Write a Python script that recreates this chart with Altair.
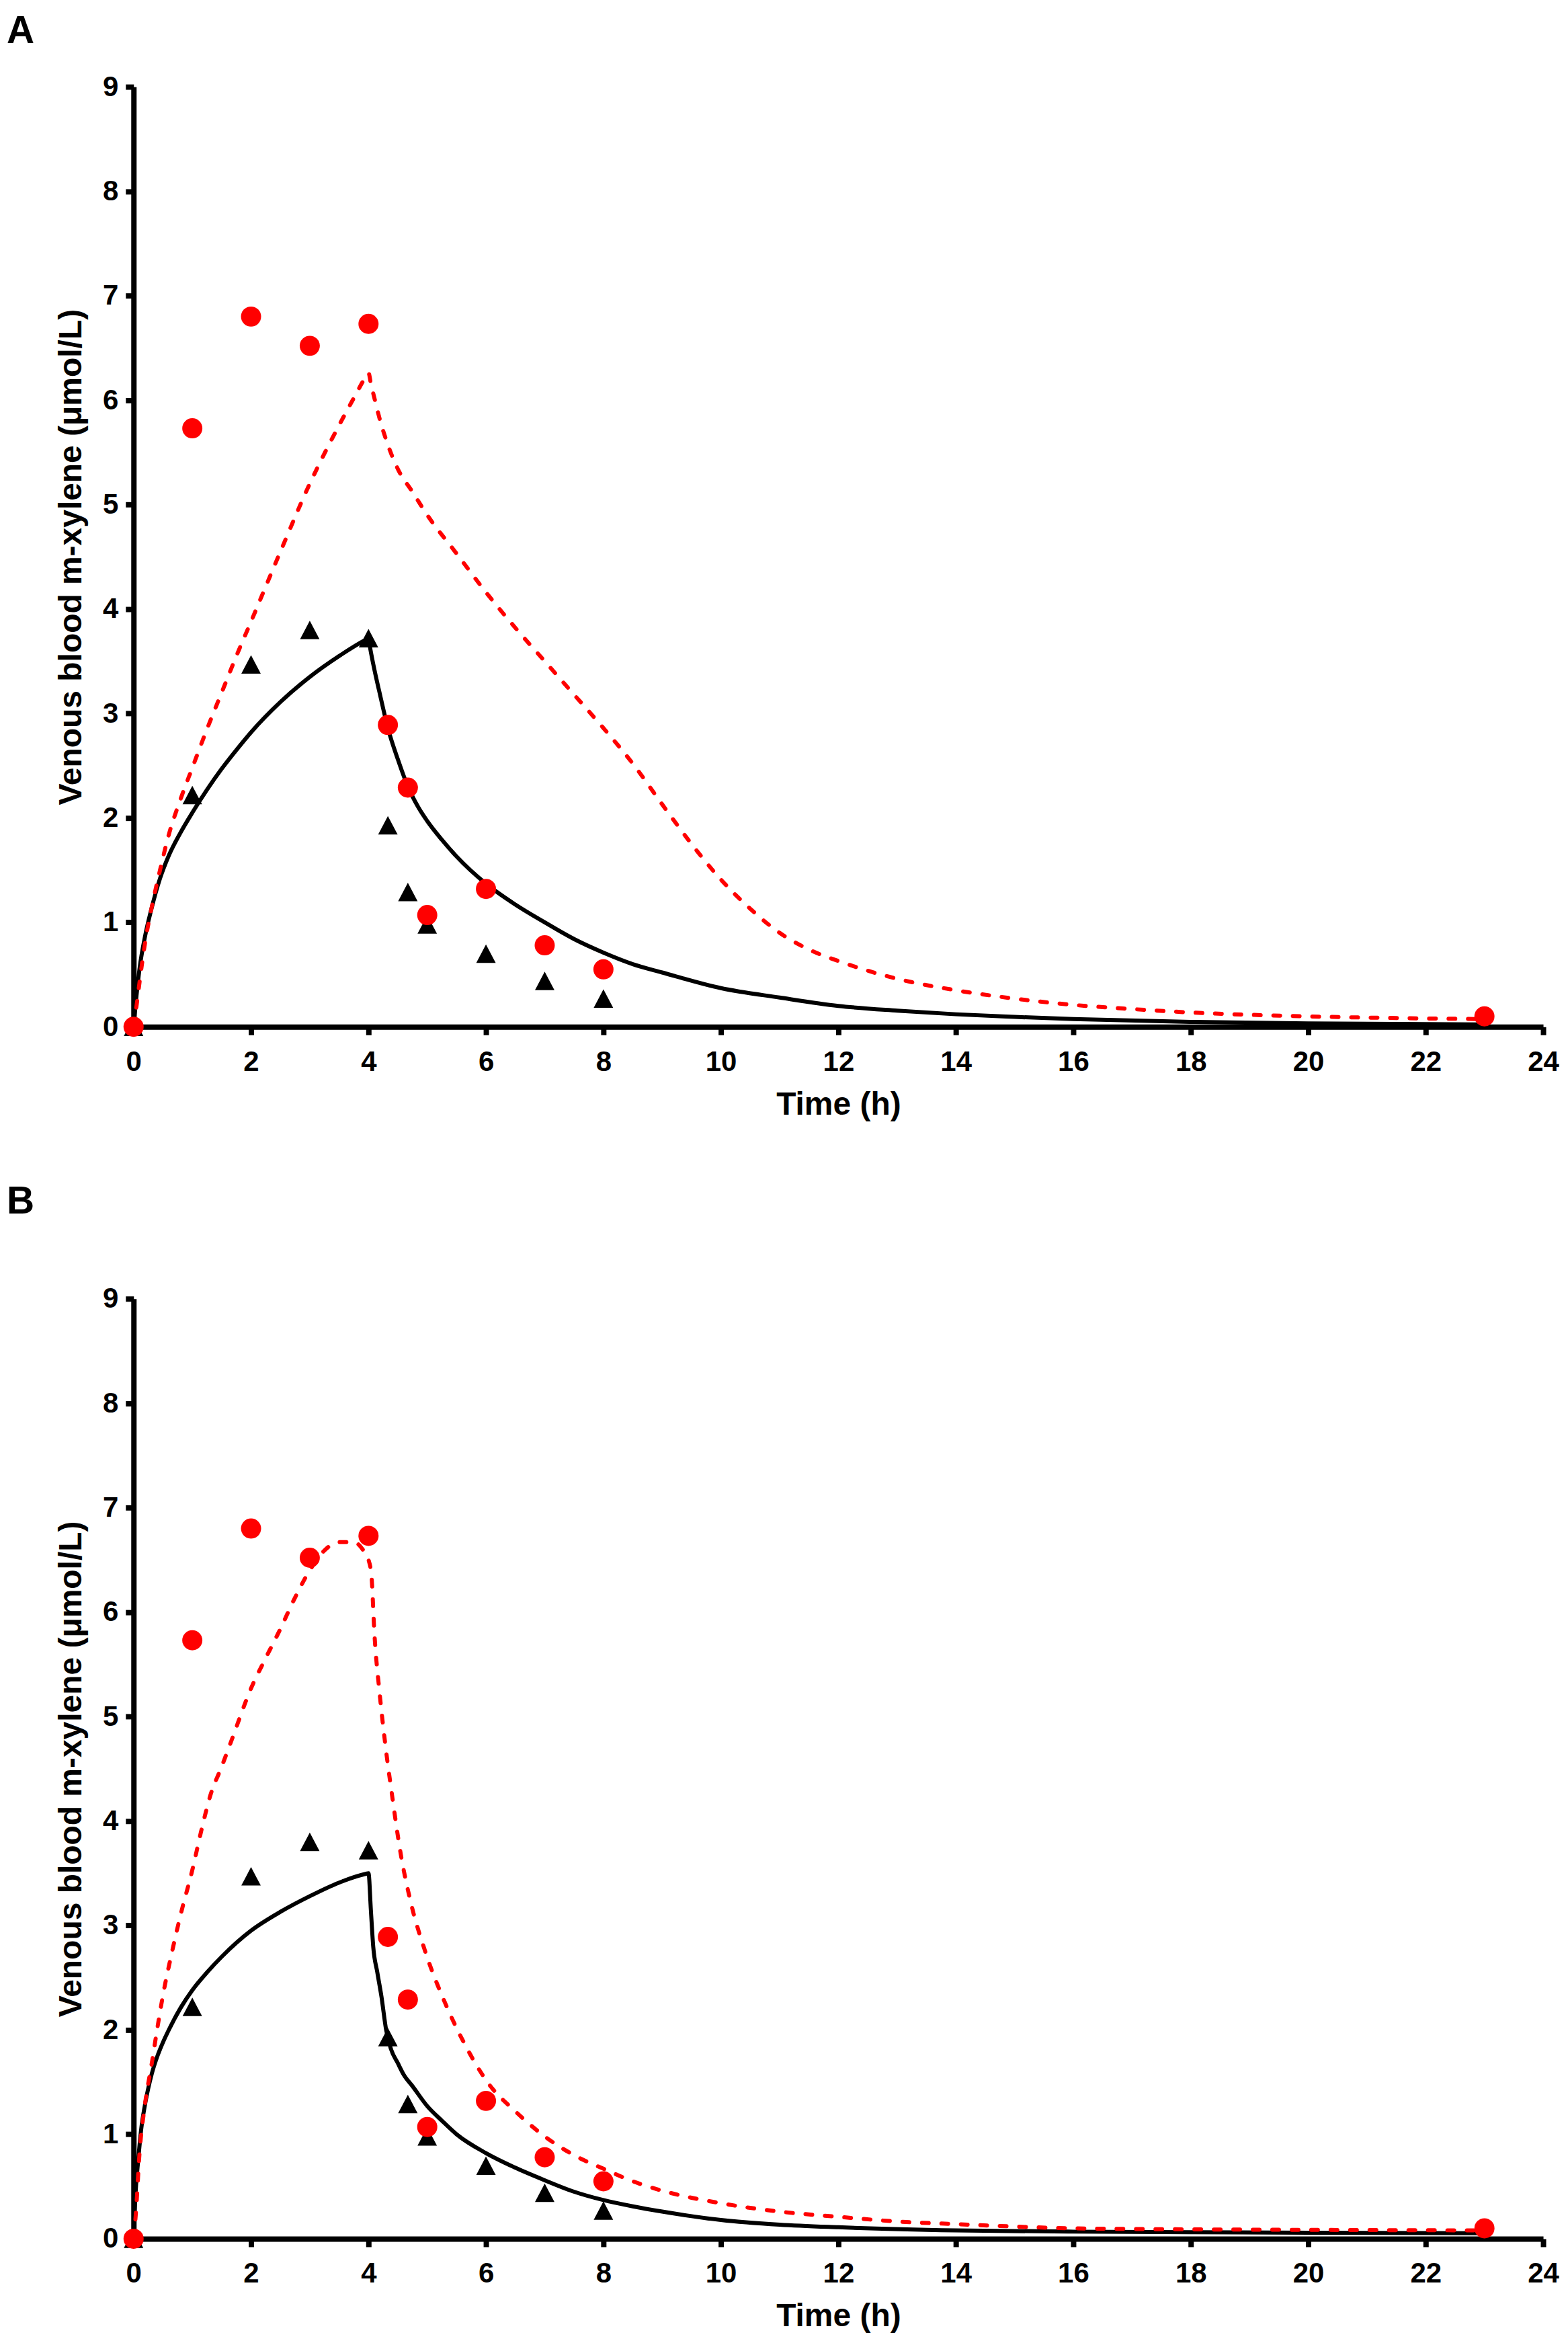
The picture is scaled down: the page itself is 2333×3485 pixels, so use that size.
import altair as alt
import pandas as pd

# ---------------- observed data (same in both panels) ----------------
obs_red_t = [0, 1, 2, 3, 4, 4.33, 4.67, 5, 6, 7, 8, 23]
obs_red_v = [0, 5.73, 6.80, 6.52, 6.73, 2.89, 2.29, 1.07, 1.32, 0.78, 0.55, 0.10]

obs_black_t = [0, 1, 2, 3, 4, 4.33, 4.67, 5, 6, 7, 8]
obs_black_v = [0, 2.22, 3.47, 3.80, 3.72, 1.93, 1.29, 0.98, 0.70, 0.44, 0.27]

# ---------------- model curves, panel A ----------------
a_black_t = [0, 0.05, 0.1, 0.2, 0.3, 0.45, 0.6, 0.8, 1.0, 1.25, 1.5, 1.75, 2.0, 2.5, 3.0, 3.5, 3.95, 4.0,
             4.03, 4.1, 4.2, 4.33, 4.5, 4.67, 4.85, 5.0, 5.25, 5.5, 6.0, 6.5, 7.0, 7.5, 8.0, 8.5, 9.0,
             10, 11, 12, 13, 14, 15, 16, 18, 20, 23]
a_black_v = [0, 0.30, 0.55, 0.88, 1.12, 1.42, 1.64, 1.86, 2.05, 2.27, 2.47, 2.65, 2.82, 3.11, 3.35, 3.55, 3.705, 3.72,
             3.62, 3.42, 3.17, 2.86, 2.56, 2.30, 2.10, 1.97, 1.79, 1.63, 1.37, 1.17, 1.00, 0.84, 0.71, 0.60, 0.52,
             0.37, 0.28, 0.20, 0.155, 0.12, 0.095, 0.074, 0.047, 0.032, 0.022]

a_red_t = [0, 0.05, 0.1, 0.15, 0.2, 0.3, 0.45, 0.6, 0.8, 1.0, 1.25, 1.5, 1.75, 2.0, 2.5, 3.0, 3.5, 3.75, 3.95, 4.0,
           4.04, 4.1, 4.2, 4.3, 4.5, 4.75, 5.0, 5.5, 6.0, 6.5, 7.0, 7.5, 8.0, 8.5, 9.0, 9.5, 10, 10.5, 11, 11.5,
           12, 13, 14, 15, 16, 17, 18, 20, 22, 23]
a_red_v = [0, 0.20, 0.42, 0.63, 0.82, 1.12, 1.50, 1.84, 2.18, 2.48, 2.85, 3.20, 3.55, 3.88, 4.55, 5.20, 5.76, 6.02, 6.22, 6.26,
           6.16, 6.02, 5.80, 5.62, 5.34, 5.12, 4.90, 4.53, 4.16, 3.82, 3.50, 3.18, 2.86, 2.52, 2.13, 1.75, 1.41, 1.13, 0.90, 0.74,
           0.63, 0.46, 0.35, 0.27, 0.21, 0.17, 0.137, 0.10, 0.08, 0.074]

# ---------------- model curves, panel B ----------------
b_black_t = [0, 0.03, 0.08, 0.13, 0.19, 0.25, 0.31, 0.4, 0.5, 0.6, 0.8, 1.0, 1.25, 1.5, 2.0, 2.5, 3.0, 3.5, 3.96, 4.0,
             4.04, 4.08, 4.15, 4.22, 4.3, 4.38, 4.5, 4.6, 4.75, 5.0, 5.25, 5.5, 6.0, 6.5, 7.0, 7.5, 8.0, 8.5, 9.0,
             10, 11, 12, 14, 16, 18, 20, 23]
b_black_v = [0, 0.40, 0.76, 1.05, 1.27, 1.44, 1.58, 1.74, 1.88, 2.00, 2.21, 2.38, 2.55, 2.70, 2.95, 3.13, 3.28, 3.41, 3.495, 3.50,
             3.15, 2.80, 2.55, 2.32, 2.00, 1.82, 1.68, 1.57, 1.46, 1.27, 1.13, 1.00, 0.82, 0.68, 0.56, 0.45, 0.37, 0.31, 0.26,
             0.18, 0.135, 0.11, 0.08, 0.068, 0.062, 0.058, 0.052]

b_red_t = [0, 0.04, 0.1, 0.19, 0.31, 0.4, 0.49, 0.66, 0.8, 1.0, 1.15, 1.31, 1.5, 1.66, 2.0, 2.25, 2.5, 2.75, 3.0,
           3.25, 3.5, 3.75, 3.9, 4.0, 4.05, 4.1, 4.19, 4.28, 4.4, 4.55, 4.72, 4.96, 5.31, 5.66, 6.05, 6.5, 7.0,
           7.5, 8.0, 8.6, 9.0, 10, 11, 12, 13, 14, 16, 18, 20, 23]
b_red_v = [0, 0.25, 0.81, 1.27, 1.68, 2.00, 2.30, 2.76, 3.10, 3.53, 3.90, 4.25, 4.52, 4.76, 5.27, 5.56, 5.84, 6.14, 6.40,
           6.59, 6.67, 6.67, 6.60, 6.50, 6.35, 5.80, 5.22, 4.76, 4.25, 3.68, 3.22, 2.76, 2.25, 1.84, 1.48, 1.22, 0.98,
           0.80, 0.67, 0.53, 0.46, 0.34, 0.26, 0.21, 0.165, 0.14, 0.10, 0.09, 0.085, 0.08]

x_ticks = list(range(0, 25, 2))
y_ticks = list(range(0, 10))
x_title = "Time (h)"
y_title = "Venous blood m-xylene (\u03bcmol/L)"

FONT = "Liberation Sans"
RED = "#FF0000"
TRIANGLE = "M0,-0.95L1,0.95L-1,0.95Z"


def panel(label, black_t, black_v, red_t, red_v, title_offset):
    black_df = pd.DataFrame({"t": black_t, "v": black_v})
    red_df = pd.DataFrame({"t": red_t, "v": red_v})
    tri_df = pd.DataFrame({"t": obs_black_t, "v": obs_black_v})
    circ_df = pd.DataFrame({"t": obs_red_t, "v": obs_red_v})

    x = alt.X("t:Q", scale=alt.Scale(domain=[0, 24], nice=False, zero=False),
              axis=alt.Axis(values=x_ticks, title=x_title, format="d", labelFlush=False))
    y = alt.Y("v:Q", scale=alt.Scale(domain=[0, 9], nice=False),
              axis=alt.Axis(values=y_ticks, title=y_title, format="d", labelFlush=False))

    black_line = alt.Chart(black_df).mark_line(
        color="black", strokeWidth=6, interpolate="monotone").encode(x=x, y=y)
    red_line = alt.Chart(red_df).mark_line(
        color=RED, strokeWidth=6, strokeDash=[10, 19], strokeCap="round",
        interpolate="monotone").encode(x=x, y=y)
    tris = alt.Chart(tri_df).mark_point(shape=TRIANGLE, filled=True, color="black",
                                        size=840, opacity=1, strokeWidth=0).encode(x=x, y=y)
    circs = alt.Chart(circ_df).mark_circle(color=RED, size=900, opacity=1).encode(x=x, y=y)

    return alt.layer(black_line, red_line, tris, circs).properties(
        width=2100, height=1400,
        title=alt.TitleParams(label, anchor="start", frame="group", dx=-189, offset=title_offset,
                              font=FONT, fontSize=57, fontWeight="bold", color="black"),
    )


pa = panel("A", a_black_t, a_black_v, a_red_t, a_red_v, 32)
pb = panel("B", b_black_t, b_black_v, b_red_t, b_red_v, 94)

chart = alt.vconcat(pa, pb, spacing=92).properties(
    padding={"left": 2, "top": 8, "right": 5, "bottom": 2},
    background="white",
).configure_view(stroke=None).configure_axis(
    grid=False,
    domainColor="black", domainWidth=8,
    tickColor="black", tickWidth=8, tickSize=12,
    labelFont=FONT, labelFontWeight="bold", labelFontSize=42, labelColor="black",
    titleFont=FONT, titleFontWeight="bold", titleFontSize=48, titleColor="black",
).configure_axisX(labelPadding=20, titlePadding=19).configure_axisY(labelPadding=11, titlePadding=22)

chart.save("out.html", embed_options={"renderer": "svg", "actions": False})
